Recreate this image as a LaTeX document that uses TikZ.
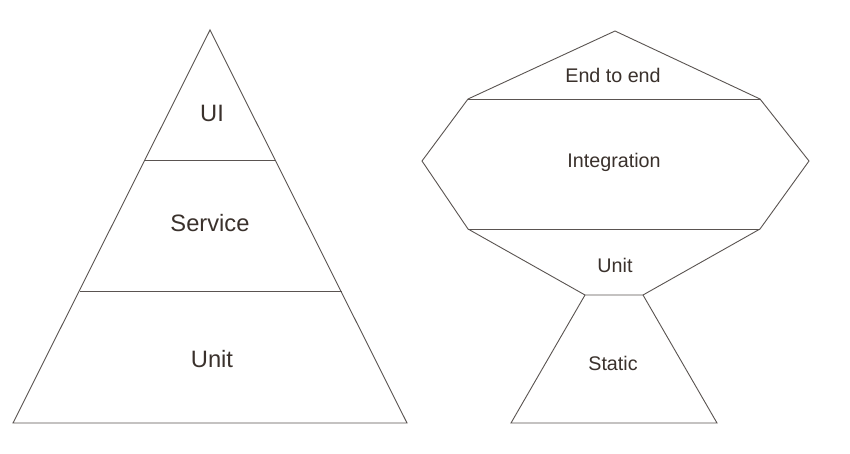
\documentclass[tikz,border=0pt]{standalone}
\usepackage{fontspec}
\setmainfont{Liberation Sans}
\definecolor{edge}{HTML}{5A5451}
\definecolor{ink}{HTML}{3A312C}
\tikzset{
  shapeline/.style={draw=edge, line width=0.9pt, line join=miter},
  bigtext/.style={text=ink, font=\fontsize{23.7}{26}\selectfont, inner sep=0pt},
  smalltext/.style={text=ink, font=\fontsize{19.7}{22}\selectfont, inner sep=0pt},
}
\begin{document}
\begin{tikzpicture}[x=1pt, y=-1pt]
\useasboundingbox (0,0) rectangle (850,454);
\fill[white] (0,0) rectangle (850,454);
% Left pyramid
\coordinate (apex) at (210,30);
\coordinate (bl) at (13,423);
\coordinate (br) at (407,423);
\draw[shapeline] (apex) -- (br) -- (bl) -- cycle;
\coordinate (l1a) at (145,160);
\coordinate (l1b) at (276,160);
\coordinate (l2a) at (80,291);
\coordinate (l2b) at (342,291);
\draw[shapeline] (l1a) -- (l1b);
\draw[shapeline] (l2a) -- (l2b);
\node[bigtext] (ui) at (212,113) {UI};
\node[bigtext] (service) at (210,223) {Service};
\node[bigtext] (unitL) at (212,359) {Unit};
% Right shape
\coordinate (top) at (615,31);
\coordinate (e1) at (468,99);
\coordinate (e2) at (760,99);
\coordinate (m1) at (422,161);
\coordinate (m2) at (809,161);
\coordinate (i1) at (468,229);
\coordinate (i2) at (760,229);
\coordinate (u1) at (585,295);
\coordinate (u2) at (643,295);
\coordinate (s1) at (511,423);
\coordinate (s2) at (717,423);
\draw[shapeline] (top) -- (e2) -- (m2) -- (i2) -- (u2) -- (u1) -- (i1) -- (m1) -- (e1) -- cycle;
\draw[shapeline] (e1) -- (e2);
\draw[shapeline] (i1) -- (i2);
\draw[shapeline] (u1) -- (s1) -- (s2) -- (u2);
\node[smalltext] (e2e) at (613,75) {End to end};
\node[smalltext] (integ) at (614,162) {Integration};
\node[smalltext] (unitR) at (615,265) {Unit};
\node[smalltext] (static) at (613,363) {Static};
\end{tikzpicture}
\end{document}
